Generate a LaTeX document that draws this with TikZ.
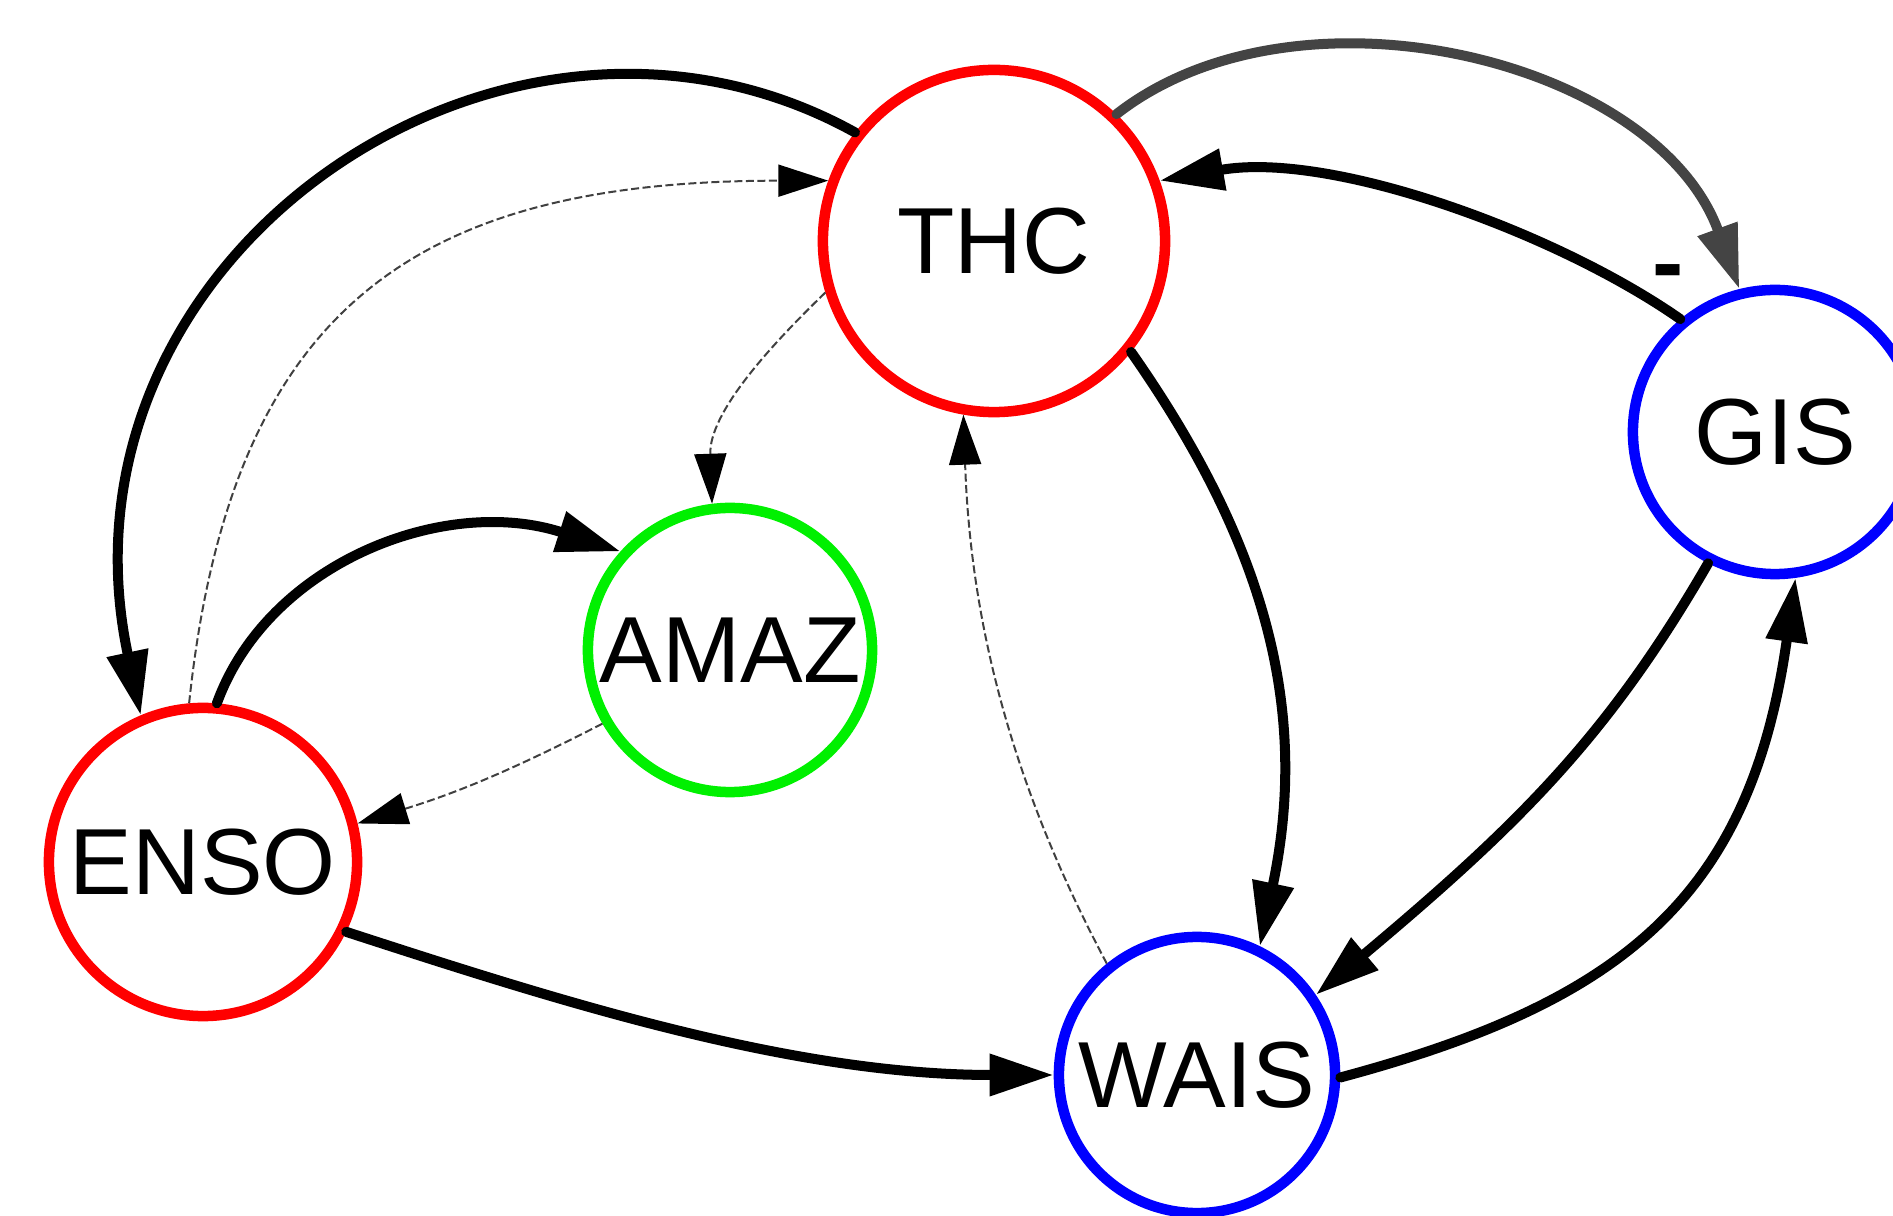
\documentclass[tikz,border=0pt]{standalone}
\usepackage{fontspec}
\setmainfont{Liberation Sans}
\usepackage{tikz}
\usetikzlibrary{arrows.meta}
\definecolor{linkgray}{RGB}{68,68,68}
\definecolor{amazgreen}{RGB}{0,240,0}
\tikzstyle{element} = [draw, circle, line width=1.05mm, inner sep=0pt, font=\fontsize{26.7}{32}\selectfont]
\tikzstyle{link} = [draw, line width=1mm, line cap=round, -{Triangle[length=6.4mm,width=4mm]}]
\tikzstyle{weak} = [draw=black!75, line width=0.2mm, dash pattern=on 0.8mm off 0.35mm, -{Triangle[length=5mm,width=3.2mm,color=black]}]

\begin{document}
\begin{tikzpicture}[x=0.01cm,y=-0.01cm]
\useasboundingbox (0,0) rectangle (1893,1216);
\node[element, draw=red, minimum size=3.42cm] (thc) at (994,241) {THC};
\node[element, draw=blue, minimum size=2.84cm] (gis) at (1775,432) {GIS};
\node[element, draw=amazgreen, minimum size=2.84cm] (amaz) at (730,650) {AMAZ};
\node[element, draw=red, minimum size=3.08cm] (enso) at (203,862) {ENSO};
\node[element, draw=blue, minimum size=2.76cm] (wais) at (1197,1075) {WAIS};
\draw[link] (thc.142) to[out=151,in=102,out distance=4cm,in distance=4.7cm] (enso.113);
\draw[weak] (enso.95) to[out=84,in=180,out distance=4cm,in distance=4.1cm] (thc.160);
\draw[link] (enso.85) to[out=70,in=162,out distance=1.5cm,in distance=1.84cm] (amaz.138);
\draw[weak] (thc.197) to[out=224,in=92,out distance=0.8cm,in distance=0.9cm] (amaz.97);
\draw[weak] (amaz.210) to[bend left=5] (enso.14);
\draw[link, draw=linkgray] (thc.46) to[out=38,in=110,out distance=2.3cm,in distance=2.44cm] (gis.104);
\draw[link] (gis.130) to[out=145,in=10,out distance=1.5cm,in distance=1.74cm] node[pos=0.1, xshift=0.28cm, yshift=0.14cm, font=\fontsize{26.7}{32}\selectfont\bfseries] (sign) {-} (thc.20);
\draw[link] (thc.-39) to[out=-55,in=78,out distance=2.3cm,in distance=2.44cm] (wais.64);
\draw[weak] (wais.129) to[out=118,in=-88,out distance=1.9cm,in distance=2.2cm] (thc.260);
\draw[link] (gis.243) to[out=240,in=40,out distance=2cm,in distance=2.64cm] (wais.34);
\draw[link] (wais.-1.5) to[out=15,in=-98,out distance=2.9cm,in distance=3.24cm] (gis.278);
\draw[link] (enso.-26) to[out=-18,in=180,out distance=2.2cm,in distance=2.64cm] (wais.180);
\end{tikzpicture}
\end{document}
